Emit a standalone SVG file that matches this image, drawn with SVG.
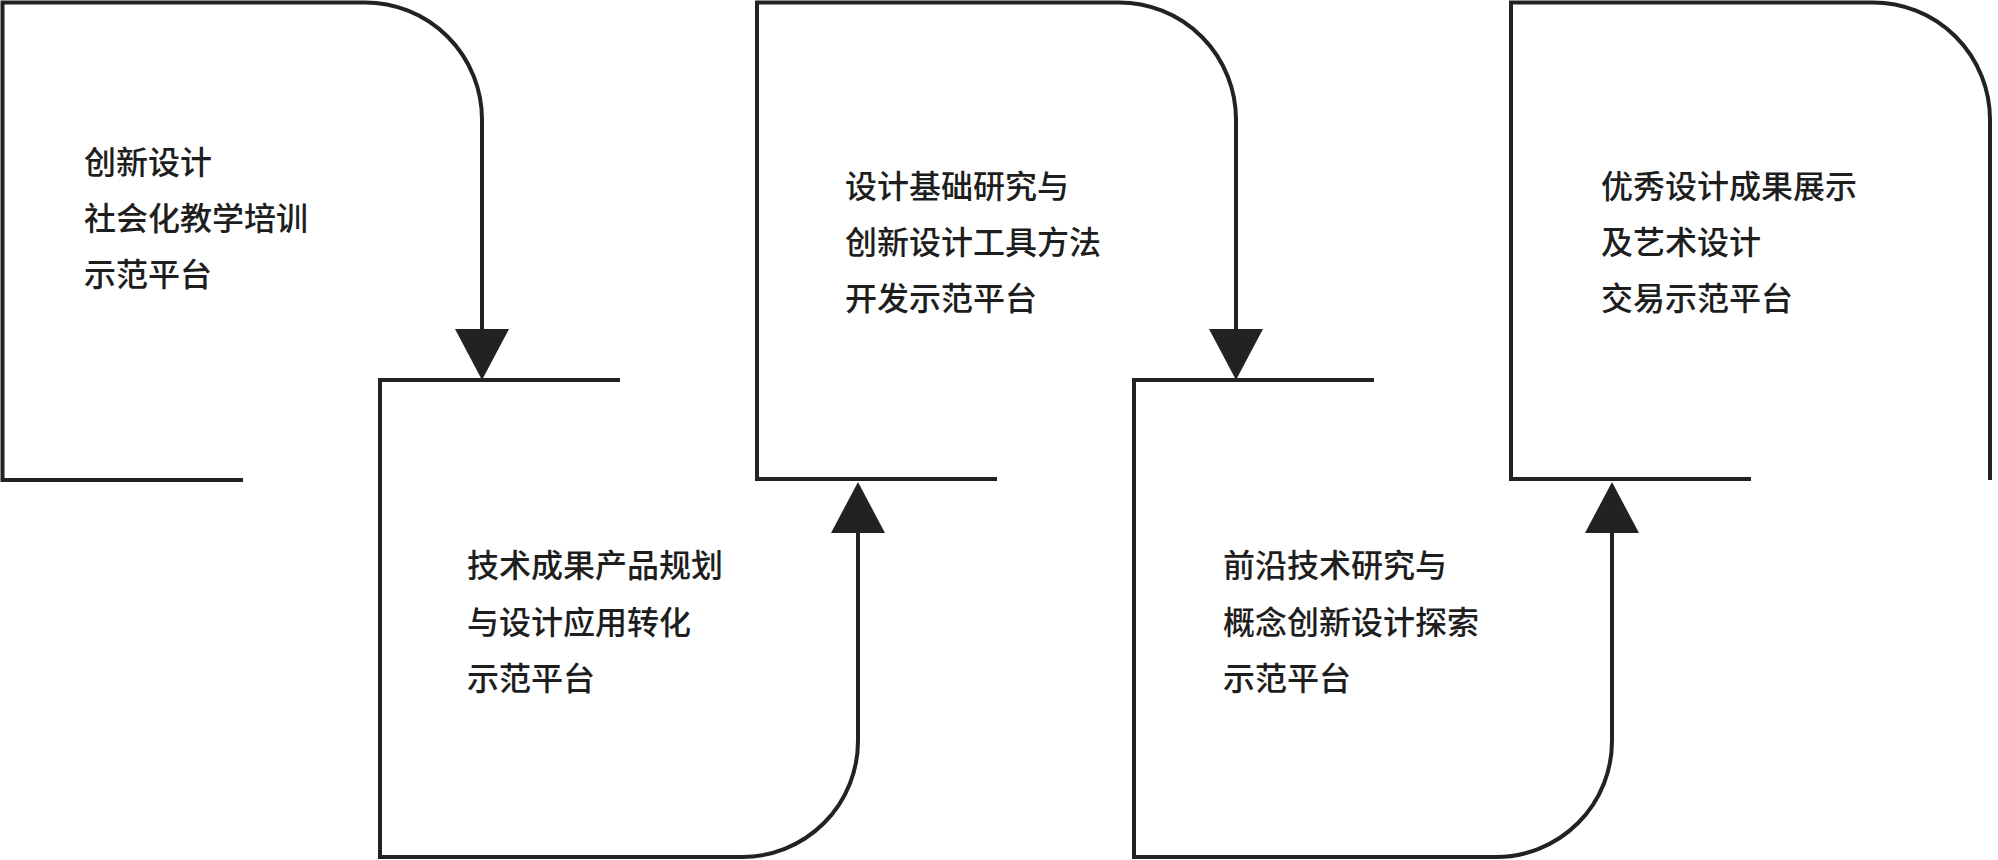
<svg xmlns="http://www.w3.org/2000/svg" width="1998" height="860" viewBox="0 0 1998 860">
<style>
.ln{fill:none;stroke:#222222;stroke-width:4;stroke-linejoin:miter;stroke-linecap:butt}
.ah{fill:#222222;stroke:none}
.tx{font-family:"Noto Sans CJK SC","Noto Sans CJK TC",sans-serif;font-size:32px;font-weight:500;fill:#1e1e1e}
</style>
<rect width="1998" height="860" fill="#ffffff"/>
<g id="node1">
<path class="ln" d="M243,480 L2.5,480 L2.5,2.5 L365,2.5"/>
<text class="tx" x="84" y="174">创新设计</text>
<text class="tx" x="84" y="230">社会化教学培训</text>
<text class="tx" x="84" y="286">示范平台</text>
</g>
<g id="node2">
<path class="ln" d="M620,380 L380,380 L380,857 L742,857"/>
<text class="tx" x="467" y="577">技术成果产品规划</text>
<text class="tx" x="467" y="634">与设计应用转化</text>
<text class="tx" x="467" y="690">示范平台</text>
</g>
<g id="node3">
<path class="ln" d="M997,479 L757,479 L757,2.5 L1119,2.5"/>
<text class="tx" x="845" y="198">设计基础研究与</text>
<text class="tx" x="845" y="254">创新设计工具方法</text>
<text class="tx" x="845" y="310">开发示范平台</text>
</g>
<g id="node4">
<path class="ln" d="M1374,380 L1134,380 L1134,857 L1496,857"/>
<text class="tx" x="1223" y="577">前沿技术研究与</text>
<text class="tx" x="1223" y="634">概念创新设计探索</text>
<text class="tx" x="1223" y="690">示范平台</text>
</g>
<g id="node5">
<path class="ln" d="M1751,479 L1511,479 L1511,2.5 L1873,2.5"/>
<text class="tx" x="1601" y="198">优秀设计成果展示</text>
<text class="tx" x="1601" y="254">及艺术设计</text>
<text class="tx" x="1601" y="310">交易示范平台</text>
</g>
<g id="connectors">
<path class="ln" d="M365,2.5 A117,117 0 0 1 482,119.5 L482,332"/>
<polygon class="ah" points="455,329 509,329 482,380"/>
<path class="ln" d="M742,857 A116,116 0 0 0 858,741 L858,530"/>
<polygon class="ah" points="831,533 885,533 858,482"/>
<path class="ln" d="M1119,2.5 A117,117 0 0 1 1236,119.5 L1236,332"/>
<polygon class="ah" points="1209,329 1263,329 1236,380"/>
<path class="ln" d="M1496,857 A116,116 0 0 0 1612,741 L1612,530"/>
<polygon class="ah" points="1585,533 1639,533 1612,482"/>
<path class="ln" d="M1873,2.5 A117,117 0 0 1 1990,119.5 L1990,480"/>
</g>
</svg>
